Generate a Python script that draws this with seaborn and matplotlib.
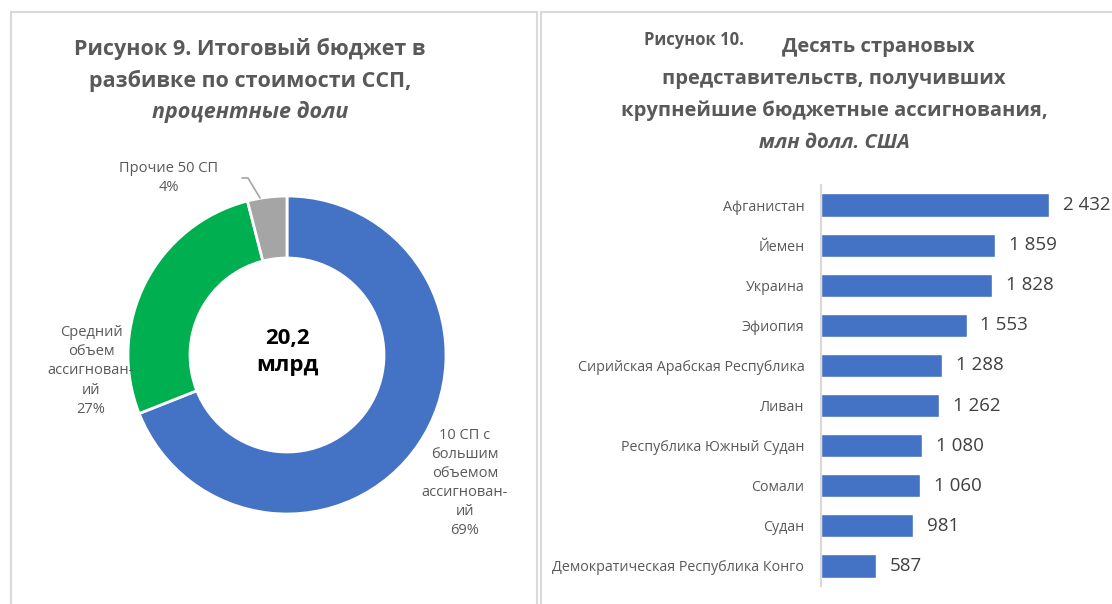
import seaborn as sns
import matplotlib.pyplot as plt
from matplotlib.patches import Rectangle

# donut data
share_labels = ["10 СП с\nбольшим\nобъемом\nассигнован-\nий", "Средний\nобъем\nассигнован-\nий", "Прочие 50 СП"]
shares = [69, 27, 4]
share_colors = ["#4472C4", "#00B050", "#A5A5A5"]
total_text = "20,2\nмлрд"

# bar data
countries = ["Афганистан", "Йемен", "Украина", "Эфиопия", "Сирийская Арабская Республика",
             "Ливан", "Республика Южный Судан", "Сомали", "Судан",
             "Демократическая Республика Конго"]
budgets = [2432, 1859, 1828, 1553, 1288, 1262, 1080, 1060, 981, 587]

sns.set_theme(style="white")
plt.rcParams["font.family"] = ["Open Sans", "DejaVu Sans"]

W, H = 1112, 604
fig = plt.figure(figsize=(W / 100, H / 100), dpi=100)
grey = "#595959"


def px(x, y):
    return x / W, 1 - y / H


# panel frames
for x0, x1 in [(11, 537), (541, 1140)]:
    fig.add_artist(Rectangle(px(x0, 640), (x1 - x0) / W, (640 - 12) / H,
                             transform=fig.transFigure, fill=False,
                             edgecolor="#D9D9D9", lw=1.5))

# ---- left: donut ----
cx, cy, r = 287, 355, 159
ax1 = fig.add_axes([(cx - r) / W, 1 - (cy + r) / H, 2 * r / W, 2 * r / H])
ax1.pie(shares, colors=share_colors, startangle=90, counterclock=False,
        wedgeprops=dict(width=0.39, edgecolor="white", linewidth=2))
ax1.set_xlim(-1, 1)
ax1.set_ylim(-1, 1)
ax1.axis("off")

fig.text(*px(287, 352), total_text, ha="center", va="center", fontsize=16,
         fontweight="bold", color="black", linespacing=1.35)

lbl_kw = dict(ha="center", va="center", fontsize=10.5, color=grey, linespacing=1.38)
fig.text(*px(465, 483), f"{share_labels[0]}\n{shares[0]}%", **lbl_kw)
fig.text(*px(91, 371), f"{share_labels[1]}\n{shares[1]}%", **lbl_kw)
fig.text(*px(169, 178), f"{share_labels[2]}\n{shares[2]}%", **lbl_kw)
fig.add_artist(plt.Line2D([242 / W, 248 / W, 260 / W],
                          [1 - 178 / H, 1 - 178 / H, 1 - 198 / H],
                          color="#A5A5A5", lw=1.2))

title_kw = dict(ha="center", va="center", fontsize=15.5, fontweight="bold", color=grey)
fig.text(*px(250, 49), "Рисунок 9. Итоговый бюджет в", **title_kw)
fig.text(*px(250, 81), "разбивке по стоимости ССП,", **title_kw)
fig.text(*px(250, 112), "процентные доли", fontstyle="italic", **title_kw)

# ---- right: bars ----
ax2 = fig.add_axes([821 / W, 1 - 586 / H, 279 / W, 401 / H])
sns.barplot(x=budgets, y=countries, orient="h", color="#4472C4", saturation=1,
            width=0.58, ax=ax2)
ax2.set_xlim(0, 2976)
ax2.set_ylim(9.5, -0.5)
for s in ["top", "right", "bottom"]:
    ax2.spines[s].set_visible(False)
ax2.spines["left"].set_color("#D9D9D9")
ax2.spines["left"].set_linewidth(1.5)
ax2.set_xticks([])
ax2.tick_params(axis="y", length=0, pad=12, labelsize=10.3, labelcolor=grey)
ax2.bar_label(ax2.containers[0], labels=[f"{v:,}".replace(",", " ") for v in budgets],
              padding=10, fontsize=13.5, color="#404040")

title_kw = dict(ha="center", va="center", fontsize=14.5, fontweight="bold", color=grey)
fig.text(*px(694, 40), "Рисунок 10.", ha="center", va="center", fontsize=12,
         fontweight="bold", color=grey)
fig.text(*px(878, 47), "Десять страновых", **title_kw)
fig.text(*px(834, 79), "представительств, получивших", **title_kw)
fig.text(*px(834, 111), "крупнейшие бюджетные ассигнования,", **title_kw)
fig.text(*px(834, 143), "млн долл. США", fontstyle="italic", **title_kw)

fig.savefig("out.png", dpi=100)
